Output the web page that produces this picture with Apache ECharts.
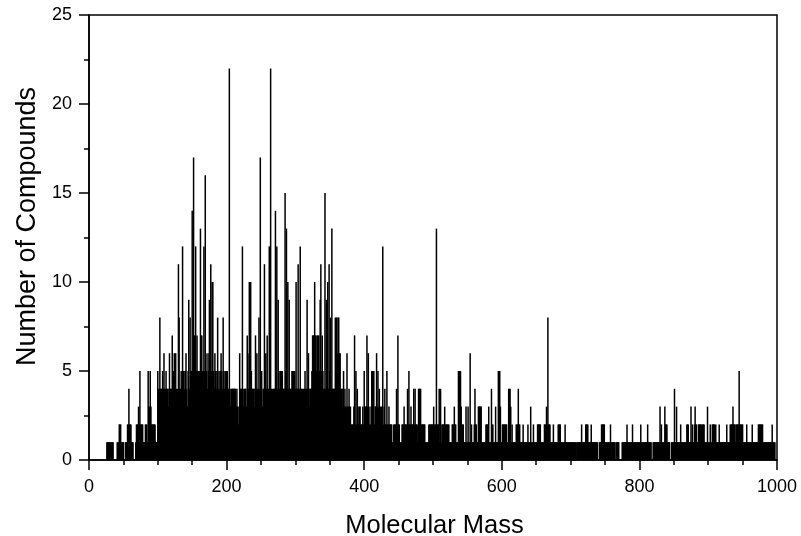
<!DOCTYPE html>
<html><head><meta charset="utf-8">
<style>html,body{margin:0;padding:0;background:#fff}#c{width:801px;height:536px}</style>
<script src="https://cdn.jsdelivr.net/npm/echarts@6/dist/echarts.min.js"></script>
</head><body><div id="c"></div>
<script>
const firstMass = 20;
const compounds = [
0,0,0,0,0,0,1,1,1,1, 1,1,1,1,1,1,0,0,0,0, 0,1,1,1,2,2,2,1,1,1, 1,0,0,1,1,1,2,2,4,2,
2,2,1,1,1,0,0,0,1,2, 2,2,3,2,5,2,2,2,2,1, 1,1,2,2,2,1,5,3,3,5, 3,2,2,2,2,2,2,1,1,1,
5,4,4,8,4,4,4,5,4,6, 4,4,5,4,4,4,3,6,4,4, 4,7,4,5,6,3,6,4,3,4, 11,8,4,4,5,4,12,5,5,4,
5,6,4,3,5,9,4,8,5,5, 14,5,17,7,6,12,5,7,5,5, 5,5,13,7,7,5,5,12,5,16, 6,5,4,6,5,9,5,11,5,10,
10,5,4,6,5,4,5,8,4,5, 4,5,6,5,4,8,5,4,5,4, 5,5,4,4,22,4,3,4,4,4, 4,4,4,4,3,4,3,2,3,6,
4,4,4,12,4,3,4,4,4,3, 7,6,4,10,5,10,5,4,4,4, 4,3,7,4,6,4,4,8,4,17, 4,5,3,4,4,11,5,6,4,7,
4,4,12,9,22,4,3,4,4,4, 4,14,5,12,4,9,5,4,5,5, 5,5,4,4,4,15,5,13,4,10, 4,9,4,4,4,5,5,5,5,5,
4,10,4,4,11,4,4,12,4,4, 4,3,4,4,5,4,4,9,4,6, 3,4,4,4,5,7,7,7,10,7, 7,5,7,7,7,5,9,11,5,7,
5,4,4,15,4,9,5,10,4,11, 5,8,4,13,4,4,4,4,8,8, 8,6,8,8,6,6,4,4,4,3, 5,3,4,3,3,6,3,3,4,3,
3,2,2,2,2,3,7,2,5,2, 4,3,2,3,3,2,2,2,3,2, 5,3,3,3,7,3,6,3,2,2, 3,5,5,5,5,2,3,3,6,3,
5,3,4,2,3,3,2,12,2,3, 4,2,2,5,2,2,3,2,2,2, 2,1,1,2,2,2,2,4,2,7, 2,2,1,1,1,2,2,2,3,2,
2,2,2,4,2,5,2,2,3,2, 2,2,4,2,4,2,2,2,1,4, 4,4,4,2,2,2,2,2,2,1, 1,1,1,1,2,2,2,2,2,2,
2,3,2,2,2,13,2,2,2,4, 1,4,1,2,2,2,2,3,2,2, 2,2,2,2,1,1,1,1,2,2, 2,3,2,2,1,1,1,5,5,5,
5,3,1,2,2,1,1,1,3,1, 1,3,1,1,6,1,2,1,1,1, 2,4,2,2,1,1,3,3,3,3, 3,1,1,1,1,1,1,2,2,2,
2,3,1,1,1,4,2,2,1,1, 1,3,1,1,1,5,5,5,3,1, 1,2,2,2,2,2,2,2,1,1, 4,4,4,3,1,2,1,1,1,1,
1,2,2,2,4,2,2,1,1,1, 1,2,1,1,1,1,1,1,2,1, 1,1,3,1,1,1,2,1,1,1, 1,1,2,2,2,2,2,1,1,1,
1,1,2,2,2,3,2,8,2,2, 2,1,1,1,1,2,1,1,1,1, 1,1,2,2,2,2,1,1,1,1, 1,1,2,1,1,1,1,1,1,1,
1,1,1,1,1,1,1,1,0,1, 1,1,1,1,1,1,2,1,1,1, 1,1,2,2,2,2,1,1,1,1, 2,1,1,1,1,1,1,1,1,1,
0,0,1,1,1,2,2,2,2,2, 1,1,1,1,1,1,1,1,2,1, 1,1,1,1,1,0,1,1,1,1, 1,0,0,0,0,1,1,1,1,1,
1,1,2,1,1,1,1,1,1,1, 2,1,1,1,1,1,1,1,1,1, 1,1,2,1,1,1,1,1,1,1, 1,1,2,1,1,1,1,1,0,0,
1,1,1,1,1,1,1,1,1,1, 3,1,2,1,1,1,1,3,2,2, 2,1,1,1,1,0,0,1,1,1, 1,4,1,1,3,1,1,1,1,1,
2,1,1,1,1,1,1,1,1,2, 2,2,1,1,1,3,1,2,1,1, 2,3,2,2,1,1,2,2,2,2, 2,1,2,2,2,1,1,1,1,3,
1,1,1,2,1,1,2,2,2,2, 1,2,1,1,1,1,2,1,1,1, 1,1,1,1,1,1,1,2,1,1, 1,1,2,2,2,2,3,2,2,2,
1,2,2,2,2,5,2,2,2,2, 2,1,1,1,1,1,2,1,1,1, 1,1,1,1,2,1,1,1,1,1, 1,1,1,2,2,2,2,2,2,2,
1,1,1,1,1,1,1,1,1,1, 1,1,1,2,1,1,1,1,0,0
];
const xTitle = 'Molecular Mass';
const yTitle = 'Number of Compounds';
const points = compounds.map((v, i) => [firstMass + i, v]);
const font = '"Liberation Sans", Arial, sans-serif';
const line = { show: true, onZero: false, lineStyle: { color: '#000', width: 1.5 } };
const chart = echarts.init(document.getElementById('c'), null, { renderer: 'canvas' });
chart.setOption({
  animation: false,
  backgroundColor: '#fff',
  grid: { left: 89, right: 24, top: 15, bottom: 76, outerBoundsMode: 'none', containLabel: false, show: true, borderColor: '#000', borderWidth: 1.5, backgroundColor: 'transparent' },
  xAxis: {
    type: 'value', min: 0, max: 1000, interval: 200,
    name: xTitle, nameLocation: 'middle', nameGap: 53,
    nameTextStyle: { fontFamily: font, fontSize: 25.5, color: '#000', padding: [0, 0, 0, 3] },
    axisLine: line,
    axisTick: { show: true, length: 10, lineStyle: { color: '#000', width: 1.5 } },
    minorTick: { show: true, splitNumber: 4, length: 5, lineStyle: { color: '#000', width: 1.5 } },
    axisLabel: { fontFamily: font, fontSize: 18, color: '#000', margin: 18, formatter: v => String(v), hideOverlap: false, showMinLabel: true, showMaxLabel: true },
    splitLine: { show: false }, minorSplitLine: { show: false }
  },
  yAxis: {
    type: 'value', min: 0, max: 25, interval: 5,
    name: yTitle, nameLocation: 'middle', nameGap: 48,
    nameTextStyle: { fontFamily: font, fontSize: 27, color: '#000', padding: [0, 0, 0, 22] },
    axisLine: line,
    axisTick: { show: true, length: 10, lineStyle: { color: '#000', width: 1.5 } },
    minorTick: { show: true, splitNumber: 2, length: 5, lineStyle: { color: '#000', width: 1.5 } },
    axisLabel: { fontFamily: font, fontSize: 18, color: '#000', margin: 17, showMinLabel: true, showMaxLabel: true },
    splitLine: { show: false }, minorSplitLine: { show: false }
  },
  series: [{
    type: 'bar', data: points, barWidth: 1.5, silent: true,
    itemStyle: { color: '#000' }
  }]
});
</script></body></html>
